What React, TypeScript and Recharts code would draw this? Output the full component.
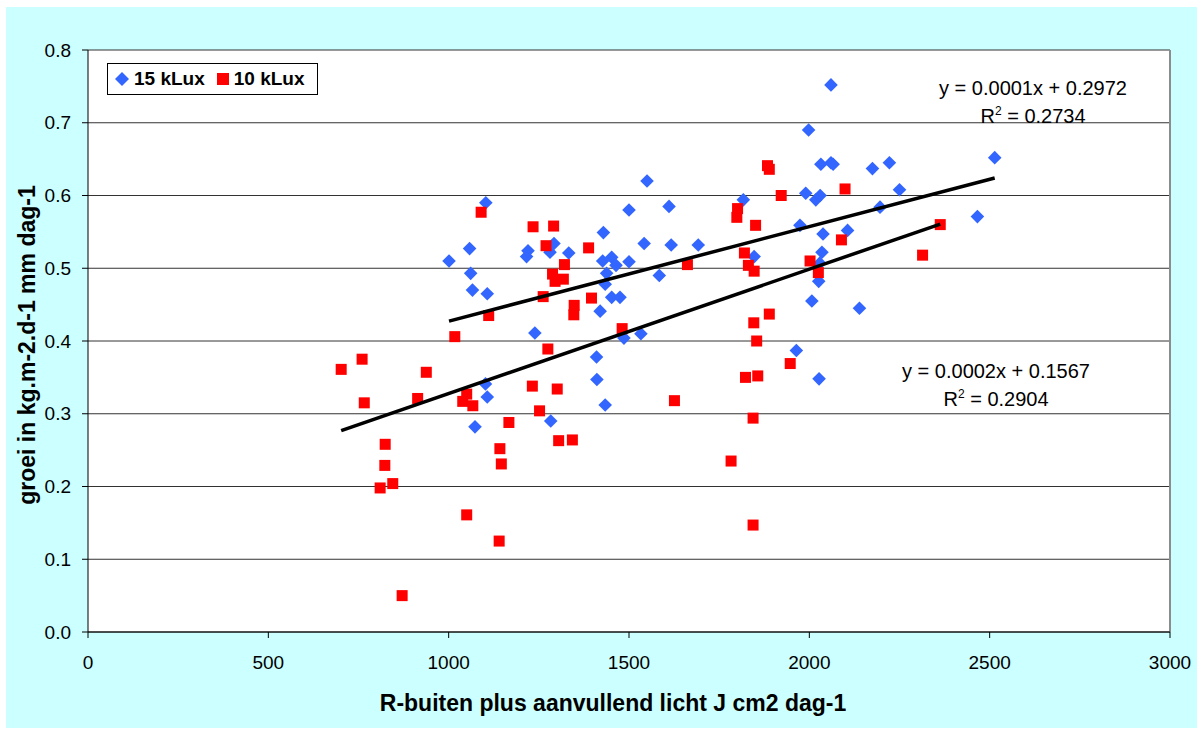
import React from 'react';
import { ScatterChart, Scatter, XAxis, YAxis, CartesianGrid, ReferenceLine } from 'recharts';

// Growth measurements: [light sum J cm2 dag-1, growth kg.m-2.d-1 mm dag-1]
const lux15: [number, number][] = [
  [1001, 0.510], [1058, 0.527], [1061, 0.493], [1066, 0.470], [1103, 0.590],
  [1107, 0.465], [1102, 0.341], [1107, 0.323], [1073, 0.282], [1216, 0.516],
  [1220, 0.524], [1239, 0.411], [1281, 0.522], [1292, 0.534], [1283, 0.290],
  [1333, 0.521], [1410, 0.378], [1411, 0.347], [1420, 0.441], [1429, 0.549],
  [1427, 0.510], [1434, 0.312], [1434, 0.478], [1438, 0.493], [1452, 0.515],
  [1452, 0.460], [1464, 0.504], [1475, 0.460], [1486, 0.404], [1500, 0.509],
  [1500, 0.580], [1533, 0.410], [1542, 0.534], [1550, 0.620], [1584, 0.490],
  [1611, 0.585], [1617, 0.532], [1692, 0.532], [1817, 0.594], [1847, 0.516],
  [1964, 0.387], [1974, 0.559], [1990, 0.603], [1998, 0.690], [2007, 0.455],
  [2018, 0.594], [2026, 0.482], [2027, 0.348], [2029, 0.507], [2030, 0.600],
  [2032, 0.643], [2035, 0.522], [2038, 0.547], [2060, 0.645], [2066, 0.643],
  [2060, 0.752], [2106, 0.552], [2139, 0.445], [2175, 0.637], [2196, 0.584],
  [2222, 0.645], [2250, 0.608], [2466, 0.571], [2514, 0.652],
];

const lux10: [number, number][] = [
  [702, 0.361], [760, 0.375], [766, 0.315], [810, 0.198], [823, 0.229],
  [824, 0.258], [845, 0.204], [871, 0.050], [914, 0.321], [938, 0.357],
  [1017, 0.406], [1039, 0.317], [1050, 0.327], [1050, 0.161], [1067, 0.311],
  [1090, 0.577], [1111, 0.435], [1140, 0.125], [1142, 0.252], [1146, 0.231],
  [1167, 0.288], [1232, 0.338], [1234, 0.557], [1252, 0.304], [1262, 0.461],
  [1270, 0.531], [1275, 0.389], [1288, 0.492], [1291, 0.558], [1295, 0.482],
  [1301, 0.334], [1305, 0.263], [1318, 0.485], [1321, 0.505], [1343, 0.264],
  [1347, 0.436], [1348, 0.449], [1388, 0.528], [1396, 0.459], [1481, 0.417],
  [1626, 0.318], [1662, 0.505], [1783, 0.235], [1799, 0.570], [1801, 0.582],
  [1820, 0.521], [1823, 0.350], [1831, 0.504], [1844, 0.294], [1844, 0.147],
  [1846, 0.425], [1847, 0.496], [1851, 0.559], [1854, 0.400], [1857, 0.352],
  [1884, 0.641], [1889, 0.636], [1889, 0.437], [1922, 0.600], [1947, 0.369],
  [2002, 0.510], [2025, 0.494], [2089, 0.539], [2099, 0.609], [2314, 0.518],
  [2363, 0.560],
];

// Linear trend fits (slope, intercept, R²)
const fit15 = { slope: 0.00013, intercept: 0.2972, r2: 0.2734 };
const fit10 = { slope: 0.000171, intercept: 0.1567, r2: 0.2904 };

const seriesNames = ['15 kLux', '10 kLux'];
const seriesColors = ['#3366FF', '#FF0000'];

const xTicks = [0, 500, 1000, 1500, 2000, 2500, 3000];
const yTicks = [0, 0.1, 0.2, 0.3, 0.4, 0.5, 0.6, 0.7, 0.8];

const xTitle = 'R-buiten plus aanvullend licht J cm2 dag-1';
const yTitle = 'groei in kg.m-2.d-1 mm dag-1';

const FONT = '"Liberation Sans", Arial, sans-serif';

const toPoints = (arr: [number, number][]) => arr.map(([x, y]) => ({ x, y }));

const trendPoints = (arr: [number, number][], fit: { slope: number; intercept: number }) => {
  const xs = arr.map((p) => p[0]);
  const lo = Math.min(...xs);
  const hi = Math.max(...xs);
  return [lo, hi].map((x) => ({ x, y: fit.slope * x + fit.intercept }));
};

const eqText = (fit: { slope: number; intercept: number }) =>
  `y = ${fit.slope.toFixed(4)}x + ${fit.intercept.toFixed(4)}`;

const Diamond = (props: any) => {
  const { cx, cy } = props;
  const r = 6.8;
  return (
    <polygon
      points={`${cx},${cy - r} ${cx + r},${cy} ${cx},${cy + r} ${cx - r},${cy}`}
      fill={seriesColors[0]}
    />
  );
};

const Square = (props: any) => {
  const { cx, cy } = props;
  const s = 11;
  return <rect x={cx - s / 2} y={cy - s / 2} width={s} height={s} fill={seriesColors[1]} />;
};

const NoMark = () => <g />;

const XTitle = (props: any) => {
  const { viewBox } = props;
  const cx = viewBox.x + viewBox.width / 2 - 16;
  return (
    <text x={cx} y={711} textAnchor="middle" fontFamily={FONT} fontWeight="bold" fontSize={23} fill="#000">
      {xTitle}
    </text>
  );
};

const YTitle = () => {
  const x = 35;
  const y = 345;
  return (
    <text
      x={x}
      y={y}
      textAnchor="middle"
      transform={`rotate(-90 ${x} ${y})`}
      fontFamily={FONT}
      fontWeight="bold"
      fontSize={23}
      fill="#000"
    >
      {yTitle}
    </text>
  );
};

const LegendBox = () => (
  <div
    style={{
      position: 'absolute',
      left: 107,
      top: 63,
      width: 211,
      height: 32,
      border: '1px solid #000',
      background: '#fff',
      display: 'flex',
      alignItems: 'center',
      fontFamily: FONT,
      fontWeight: 'bold',
      fontSize: 19,
      color: '#000',
      boxSizing: 'border-box',
    }}
  >
    <svg width={14} height={14} style={{ marginLeft: 7 }}>
      <polygon points="7,0 14,7 7,14 0,7" fill={seriesColors[0]} />
    </svg>
    <span style={{ marginLeft: 5 }}>{seriesNames[0]}</span>
    <svg width={12} height={12} style={{ marginLeft: 12 }}>
      <rect x={0} y={0} width={12} height={12} fill={seriesColors[1]} />
    </svg>
    <span style={{ marginLeft: 5 }}>{seriesNames[1]}</span>
  </div>
);

const Equation = ({ fit, cx, top }: { fit: { slope: number; intercept: number; r2: number }; cx: number; top: number }) => (
  <div
    style={{
      position: 'absolute',
      left: cx - 150,
      top,
      width: 300,
      textAlign: 'center',
      fontFamily: FONT,
      fontSize: 20,
      lineHeight: '28px',
      color: '#000',
    }}
  >
    <div>{eqText(fit)}</div>
    <div>
      R<sup style={{ fontSize: 12, verticalAlign: 'top', lineHeight: '18px' }}>2</sup> = {fit.r2.toFixed(4)}
    </div>
  </div>
);

export default function App() {
  const data15 = toPoints(lux15);
  const data10 = toPoints(lux10);
  const line15 = trendPoints(lux15, fit15);
  const line10 = trendPoints(lux10, fit10);

  return (
    <div style={{ position: 'absolute', left: 0, top: 0, width: 1203, height: 730, background: '#fff', overflow: 'hidden' }}>
      <div style={{ position: 'absolute', left: 6, top: 7, width: 1191, height: 721, background: '#CCFFFF' }} />
      <div style={{ position: 'absolute', left: 0, top: 0 }}>
        <ScatterChart width={1203} height={730} margin={{ top: 50, right: 33, bottom: 38, left: 0 }}>
          <CartesianGrid vertical={false} stroke="#333" fill="#fff" fillOpacity={1} />
          <XAxis
            type="number"
            dataKey="x"
            domain={[0, 3000]}
            ticks={xTicks}
            height={60}
            tickSize={6}
            tickMargin={18}
            axisLine={{ stroke: '#000' }}
            tickLine={{ stroke: '#000' }}
            tick={{ fill: '#000', fontSize: 19, fontFamily: FONT }}
            label={{ content: XTitle }}
          />
          <YAxis
            type="number"
            dataKey="y"
            domain={[0, 0.8]}
            ticks={yTicks}
            tickFormatter={(v: number) => v.toFixed(1)}
            width={88}
            tickSize={6}
            tickMargin={11}
            axisLine={{ stroke: '#000' }}
            tickLine={{ stroke: '#000' }}
            tick={{ fill: '#000', fontSize: 19, fontFamily: FONT }}
            label={{ content: YTitle }}
          />
          <ReferenceLine x={3000} stroke="#8c8c8c" strokeWidth={2} />
          <Scatter name={seriesNames[0]} data={data15} shape={Diamond} isAnimationActive={false} />
          <Scatter name={seriesNames[1]} data={data10} shape={Square} isAnimationActive={false} />
          <Scatter data={line15} shape={NoMark} line={{ stroke: '#000', strokeWidth: 3.5 }} legendType="none" isAnimationActive={false} />
          <Scatter data={line10} shape={NoMark} line={{ stroke: '#000', strokeWidth: 3.5 }} legendType="none" isAnimationActive={false} />
        </ScatterChart>
      </div>
      <LegendBox />
      <Equation fit={fit15} cx={1033} top={74} />
      <Equation fit={fit10} cx={996} top={357} />
    </div>
  );
}
